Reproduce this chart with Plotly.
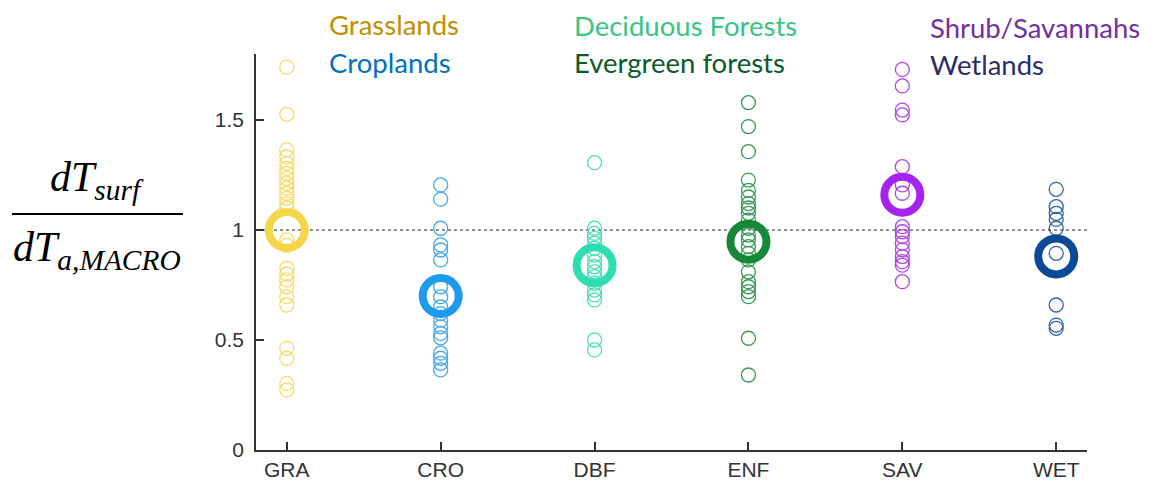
import plotly.graph_objects as go

categories = ["GRA", "CRO", "DBF", "ENF", "SAV", "WET"]
legend_names = ["Grasslands", "Croplands", "Deciduous Forests", "Evergreen forests", "Shrub/Savannahs", "Wetlands"]

gra = [1.74, 1.526, 1.364, 1.333, 1.303, 1.28, 1.258, 1.235, 1.212, 1.19, 1.167, 1.144, 1.12, 1.10,
       0.955, 0.93, 0.826, 0.80, 0.773, 0.742, 0.697, 0.659, 0.462, 0.417, 0.303, 0.273]
cro = [1.205, 1.14, 1.008, 0.932, 0.909, 0.864, 0.742, 0.697, 0.65, 0.62, 0.59, 0.56, 0.53, 0.51,
       0.44, 0.417, 0.394, 0.364]
dbf = [1.306, 1.008, 0.985, 0.962, 0.94, 0.917, 0.886, 0.856, 0.833, 0.81, 0.788, 0.758, 0.727,
       0.705, 0.682, 0.5, 0.455]
enf = [1.579, 1.47, 1.356, 1.227, 1.18, 1.15, 1.12, 1.10, 1.076, 1.045, 1.008, 0.977, 0.955, 0.924,
       0.894, 0.864, 0.81, 0.765, 0.742, 0.72, 0.697, 0.508, 0.341]
sav = [1.73, 1.655, 1.545, 1.523, 1.288, 1.205, 1.167, 1.015, 0.992, 0.97, 0.94, 0.91, 0.879,
       0.856, 0.84, 0.765]
wet = [1.185, 1.106, 1.076, 1.048, 1.008, 0.894, 0.659, 0.568, 0.553]
series = [gra, cro, dbf, enf, sav, wet]
means = [1.0, 0.70, 0.84, 0.947, 1.16, 0.88]

marker_colors = ["#F7D54A", "#1F9BEE", "#2EDDB0", "#16883A", "#A423EE", "#0C4A98"]
text_colors = ["#BF9000", "#0070C0", "#3BC485", "#0B5A2C", "#7030A0", "#2B2D66"]

fig = go.Figure()

# mean rings
for i, cat in enumerate(categories):
    fig.add_trace(go.Scatter(
        x=[i + 1], y=[means[i]], mode="markers",
        marker=dict(symbol="circle-open", size=36, color=marker_colors[i],
                    line=dict(width=8, color=marker_colors[i])),
        showlegend=False, hoverinfo="skip"))

# individual sites
for i, cat in enumerate(categories):
    fig.add_trace(go.Scatter(
        x=[i + 1] * len(series[i]), y=series[i], mode="markers",
        marker=dict(symbol="circle-open", size=14, color=marker_colors[i],
                    line=dict(width=1.3, color=marker_colors[i])),
        opacity=0.85, showlegend=False))

# reference line at 1
fig.add_shape(type="line", xref="x", yref="y", x0=0.8, x1=6.2, y0=1, y1=1,
              line=dict(color="#222222", width=1, dash="dot"), layer="below")

# legend-like text labels
label_pos = [(0.0854, 1.075), (0.0854, 0.978), (0.380, 1.072), (0.380, 0.978), (0.8087, 1.068), (0.8087, 0.973)]
for name, col, (px, py) in zip(legend_names, text_colors, label_pos):
    fig.add_annotation(x=px, y=py, xref="paper", yref="paper", text=name, showarrow=False,
                       xanchor="left", yanchor="middle",
                       font=dict(family="Lato", size=27.5, color=col))

# y-axis label as a fraction
serif = "Liberation Serif"
fig.add_annotation(x=-0.191, y=0.683, xref="paper", yref="paper",
                   text="<i>dT<sub>surf</sub></i>", showarrow=False,
                   xanchor="center", yanchor="middle",
                   font=dict(family=serif, size=42, color="black"))
fig.add_annotation(x=-0.191, y=0.505, xref="paper", yref="paper",
                   text="<i>dT<sub>a,MACRO</sub></i>", showarrow=False,
                   xanchor="center", yanchor="middle",
                   font=dict(family=serif, size=42, color="black"))
fig.add_shape(type="line", xref="paper", yref="paper", x0=-0.2936, x1=-0.0878, y0=0.596, y1=0.596,
              line=dict(color="black", width=2))

fig.update_xaxes(range=[0.8, 6.2], tickvals=list(range(1, 7)), ticktext=categories,
                 showline=True, linecolor="#333333", linewidth=1.5,
                 ticks="inside", ticklen=8, tickcolor="#333333", tickwidth=1.5,
                 showgrid=False, zeroline=False,
                 tickfont=dict(family="Liberation Sans", size=21, color="#333333"))
fig.update_yaxes(range=[0, 1.8], tickvals=[0, 0.5, 1, 1.5], ticktext=["0", "0.5", "1", "1.5"],
                 showline=True, linecolor="#333333", linewidth=1.5,
                 ticks="inside", ticklen=8, tickcolor="#333333", tickwidth=1.5,
                 showgrid=False, zeroline=False, ticklabelstandoff=6,
                 tickfont=dict(family="Liberation Sans", size=21, color="#333333"))

fig.update_layout(width=1163, height=489, margin=dict(l=248, r=84, t=46, b=47),
                  plot_bgcolor="white", paper_bgcolor="white")

fig.write_html("out.html")
